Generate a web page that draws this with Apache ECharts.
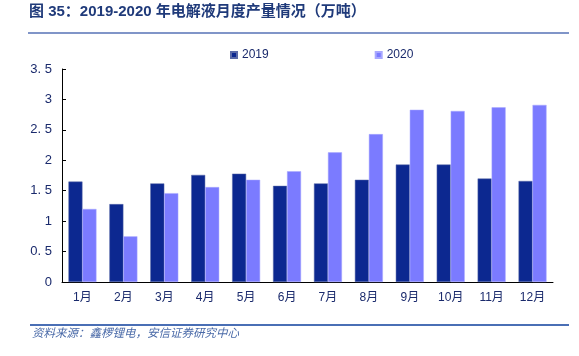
<!DOCTYPE html>
<html><head><meta charset="utf-8">
<script src="https://cdn.jsdelivr.net/npm/echarts@6/dist/echarts.min.js"></script>
<style>html,body{margin:0;padding:0;background:#fff}#c{width:579px;height:356px}</style>
</head><body><div id="c"></div>
<script>
const categories = ['1月','2月','3月','4月','5月','6月','7月','8月','9月','10月','11月','12月'];
const series2019 = [1.65,1.28,1.62,1.76,1.78,1.58,1.62,1.68,1.93,1.93,1.70,1.66];
const series2020 = [1.20,0.75,1.46,1.56,1.68,1.82,2.13,2.43,2.83,2.81,2.87,2.91];
const yTickLabels = ['0','0. 5','1','1. 5','2','2. 5','3','3. 5'];
const titleText = '图 35：2019-2020 年电解液月度产量情况（万吨）';
const sourceText = '资料来源：鑫椤锂电，安信证券研究中心';

const chart = echarts.init(document.getElementById('c'));
chart.setOption({
  animation:false,
  backgroundColor:'#fff',
  textStyle:{fontFamily:'"Liberation Sans","Noto Sans CJK SC",sans-serif'},
  legend:{
    left:225, top:44, itemWidth:6, itemHeight:6, itemGap:106, icon:'rect',
    textStyle:{color:'#1a2a6c', fontSize:12, fontFamily:'"Liberation Sans",sans-serif'},
    data:['2019','2020']
  },
  grid:{left:62, right:26, top:69, bottom:74},
  xAxis:{
    type:'category', data:categories,
    axisLine:{lineStyle:{color:'#000', width:1}},
    axisTick:{inside:true, length:4, lineStyle:{color:'#000'}},
    axisLabel:{color:'#1a2a6c', fontSize:12, margin:10, fontFamily:'"Liberation Sans","Noto Sans CJK SC",sans-serif'}
  },
  yAxis:{
    type:'value', min:0, max:3.5, interval:0.5,
    splitLine:{show:false},
    axisLine:{show:true, lineStyle:{color:'#000', width:1}},
    axisTick:{show:true, inside:true, length:4, lineStyle:{color:'#000'}},
    axisLabel:{color:'#1a2a6c', fontSize:13, margin:10,
      formatter:function(v){return yTickLabels[Math.round(v/0.5)];}}
  },
  series:[
    {name:'2019', type:'bar', data:series2019, barWidth:14, barGap:'0%',
     itemStyle:{color:'#0c2890', borderColor:'#5a6aa8', borderWidth:0.5}},
    {name:'2020', type:'bar', data:series2020, barWidth:14,
     itemStyle:{color:'#7b7bff', borderColor:'#a8a8ff', borderWidth:0.5}}
  ],
  graphic:[
    {type:'text', left:29, top:4, style:{text:titleText, fill:'#1f3a7a', font:'bold 15px "Liberation Sans","Noto Sans CJK SC",sans-serif'}},
    {type:'rect', shape:{x:28, y:32, width:541, height:2}, style:{fill:'#8095c8'}},
    {type:'rect', shape:{x:30, y:324, width:539, height:2}, style:{fill:'#4a6fb5'}},
    {type:'text', left:32, top:327, style:{text:sourceText, fill:'#4a6aa8', font:'italic 11.5px "Noto Sans CJK SC",sans-serif'}}
  ]
});
</script></body></html>
